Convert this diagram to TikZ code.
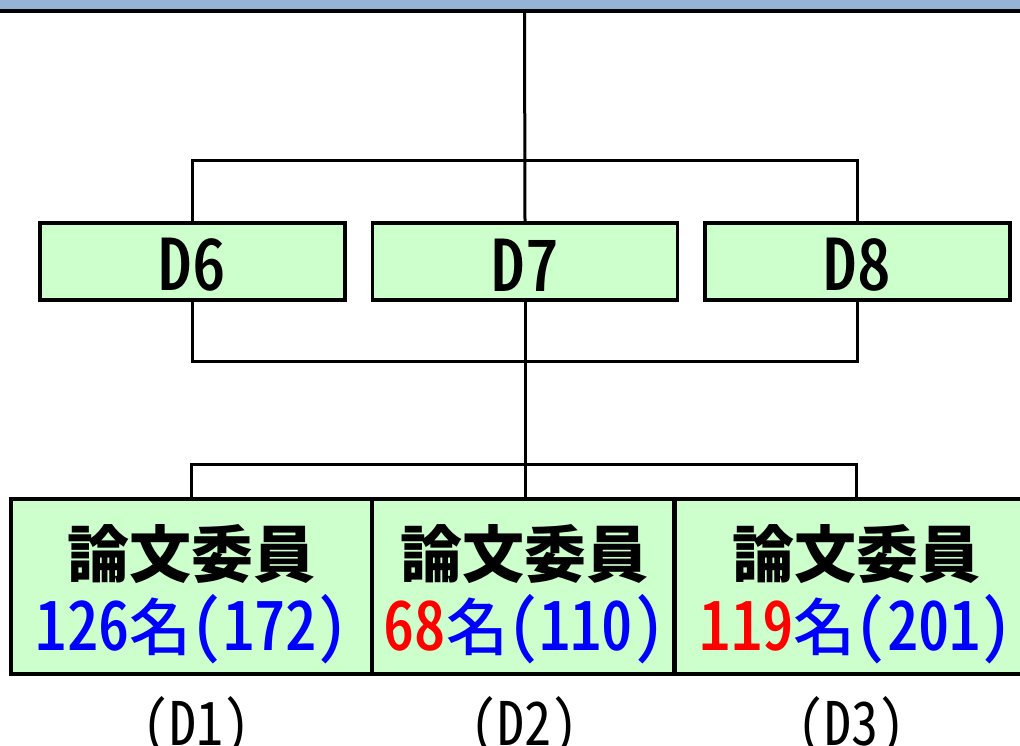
\documentclass[tikz,border=0pt]{standalone}
\usepackage{fontspec}
\newfontfamily\jpfont{Noto Sans CJK JP}
\newfontfamily\jpmed{Noto Sans CJK JP Medium}
\newfontfamily\dfont[FakeStretch=0.95, RawFeature=+hwid]{Noto Sans CJK JP Medium}
\newfontfamily\cfont[FakeStretch=0.92, RawFeature=+hwid]{Noto Sans CJK JP Medium}
\newfontfamily\sfont[FakeStretch=0.9, RawFeature=+hwid]{Noto Sans CJK JP}
\definecolor{boxgreen}{HTML}{CCFFCC}
\definecolor{bandblue}{HTML}{95B3D7}
\definecolor{cblue}{HTML}{0000FF}
\definecolor{cred}{HTML}{FF0000}
\newcommand\narw[1]{{\cfont\fontsize{68}{68}\selectfont #1}}
\newcommand\mei{{\jpmed\fontsize{62}{62}\selectfont 名}}
\tikzset{
  dbox/.style={draw, line width=3.5pt, fill=boxgreen, minimum width=305pt, minimum height=77pt, inner sep=0pt},
  cbox/.style={draw, line width=3.5pt, fill=boxgreen, minimum height=175pt, inner sep=0pt},
  dlabel/.style={inner sep=0pt, font=\dfont\fontsize{71}{71}\selectfont},
  title/.style={inner sep=0pt, font=\jpfont\bfseries\fontsize{62}{62}\selectfont},
  count/.style={inner sep=0pt},
  sublabel/.style={inner sep=0pt, font=\sfont\fontsize{60}{60}\selectfont},
  conn/.style={draw, line width=3pt},
}
\begin{document}
\begin{tikzpicture}[x=1pt,y=-1pt]
\useasboundingbox (0,0) rectangle (1020,745);
\clip (0,0) rectangle (1020,745);
% top band
\fill[bandblue] (0,0) rectangle (1020,10);
\draw[line width=4pt] (0,11) -- (1020,11);
\coordinate (top) at (524.5,11);
% D6-D8 boxes
\node[dbox] (D6) at (192.5,261.5) {};
\node[dbox] (D7) at (525,261.5) {};
\node[dbox] (D8) at (857.5,261.5) {};
\node[dlabel] (D6t) at (192.5,265) {D6};
\node[dlabel] (D7t) at (525,265) {D7};
\node[dlabel] (D8t) at (857.5,265) {D8};
% bottom boxes
\node[cbox, minimum width=361pt] (D1) at (191.5,586.5) {};
\node[cbox, minimum width=302pt] (D2) at (523,586.5) {};
\node[cbox, minimum width=362pt] (D3) at (856,586.5) {};
% connectors
\draw[conn] (top) -- (D7.north);
\draw[conn] (D6.north) -- ++(0,-61) -| (D8.north);
\draw[conn] (D6.south) -- ++(0,60) -| (D8.south);
\draw[conn] (D7.south) -- (D7.south |- D2.north);
\draw[conn] (D1.north) -- ++(0,-33) -| (D3.north);
% texts in bottom boxes
\node[title] (D1a) at (191.5,554) {論文委員};
\node[title] (D2a) at (524,554) {論文委員};
\node[title] (D3a) at (856,554) {論文委員};
\node[count] (D1b) at (192,629) {\color{cblue}\narw{126}\mei\narw{(172)}};
\node[count] (D2b) at (524,629) {\textcolor{cred}{\narw{68}}\color{cblue}\mei\narw{(110)}};
\node[count] (D3b) at (856,629) {\textcolor{cred}{\narw{119}}\color{cblue}\mei\narw{(201)}};
% sub labels
\node[sublabel] (L1) at (196,727) {(D1)};
\node[sublabel] (L2) at (524.5,727) {(D2)};
\node[sublabel] (L3) at (851,727) {(D3)};
\end{tikzpicture}
\end{document}
